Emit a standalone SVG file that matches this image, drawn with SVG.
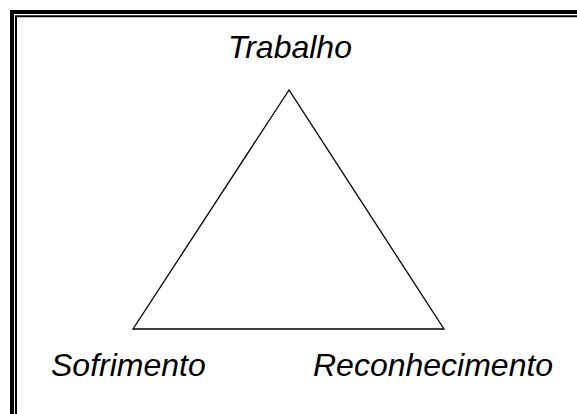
<svg xmlns="http://www.w3.org/2000/svg" width="577" height="414" viewBox="0 0 577 414">
<style>
.lbl{font-family:"Liberation Sans",Arial,sans-serif;font-style:italic;font-size:32px;fill:#000}
.frame{fill:none;stroke:#000}
</style>
<rect width="577" height="414" fill="#fff"/>
<g id="frame">
<path class="frame" stroke-width="4" d="M12,414 V12 H577"/>
<path class="frame" stroke-width="2" d="M16,414 V16.3 H577"/>
</g>
<g id="connectors">
<polygon points="289,90 133,329 444,329" fill="none" stroke="#000" stroke-width="1.3" stroke-linejoin="miter"/>
</g>
<g id="trabalho"><text class="lbl" x="228" y="58">Trabalho</text></g>
<g id="sofrimento"><text class="lbl" x="51" y="376">Sofrimento</text></g>
<g id="reconhecimento"><text class="lbl" x="313" y="376">Reconhecimento</text></g>
</svg>
